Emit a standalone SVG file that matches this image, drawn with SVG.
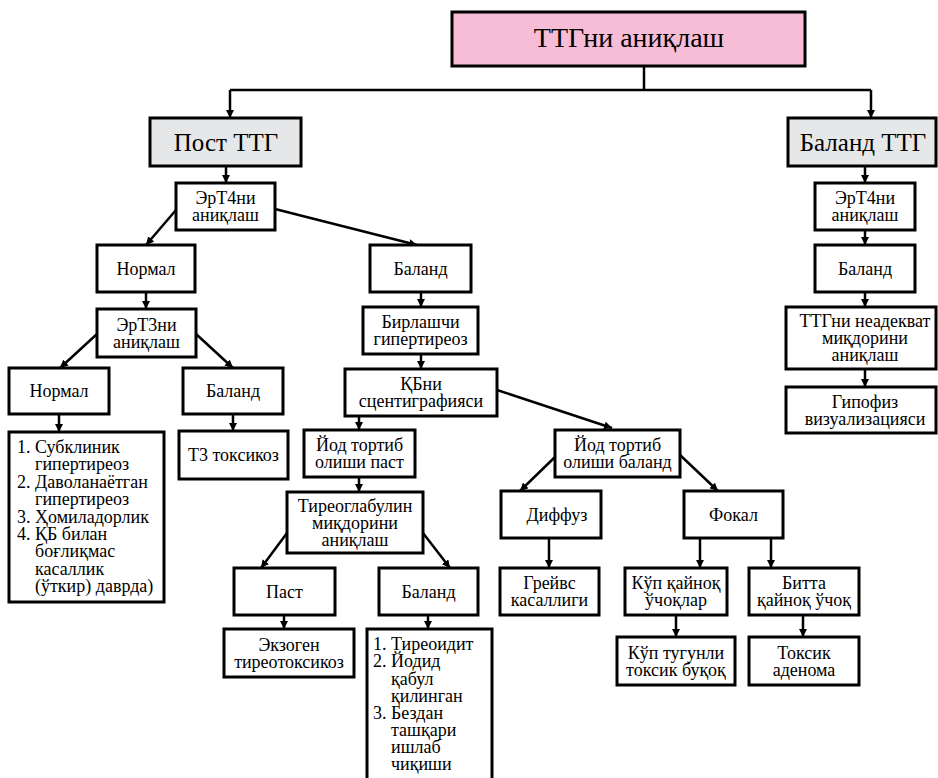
<svg xmlns="http://www.w3.org/2000/svg" width="938" height="778" viewBox="0 0 938 778">
  <style>
    .box { fill: #ffffff; stroke: #000000; stroke-width: 3; }
    .pink { fill: #f7bdd7; }
    .grey { fill: #e6e7e9; }
    .c { fill: none; stroke: #000000; stroke-width: 2.5; }
    .a { fill: none; stroke: #000000; stroke-width: 2.5; marker-end: url(#arr); }
  </style>
  <defs>
    <marker id="arr" markerUnits="userSpaceOnUse" markerWidth="9" markerHeight="8" refX="8" refY="4" orient="auto">
      <path d="M0,0 L8,4 L0,8 z" fill="#000000"/>
    </marker>
  </defs>

  <rect width="938" height="778" fill="#ffffff"/>

  <g id="connectors">
    <path class="c" d="M644,66 V90"/>
    <path class="c" d="M230,90 H871"/>
    <line class="a" x1="230" y1="90" x2="230" y2="118"/>
    <line class="a" x1="871" y1="90" x2="871" y2="118"/>
    <line class="a" x1="226" y1="166" x2="226" y2="183"/>
    <line class="a" x1="176" y1="210" x2="146" y2="245"/>
    <line class="a" x1="275" y1="209" x2="417" y2="245"/>
    <line class="a" x1="146" y1="292" x2="146" y2="309"/>
    <line class="a" x1="97" y1="334" x2="60" y2="368"/>
    <line class="a" x1="196" y1="334" x2="233" y2="368"/>
    <line class="a" x1="59" y1="414" x2="59" y2="432"/>
    <line class="a" x1="233" y1="414" x2="233" y2="431"/>
    <line class="a" x1="421" y1="292" x2="421" y2="307"/>
    <line class="a" x1="421" y1="354" x2="421" y2="369"/>
    <line class="a" x1="359" y1="416" x2="359" y2="430"/>
    <line class="a" x1="497" y1="390" x2="612" y2="428"/>
    <line class="a" x1="359" y1="477" x2="359" y2="492"/>
    <line class="a" x1="287" y1="533" x2="261" y2="568"/>
    <line class="a" x1="423" y1="533" x2="450" y2="568"/>
    <line class="a" x1="284" y1="615" x2="284" y2="629"/>
    <line class="a" x1="428" y1="615" x2="428" y2="629"/>
    <line class="a" x1="555" y1="457" x2="520" y2="491"/>
    <line class="a" x1="680" y1="455" x2="718" y2="491"/>
    <line class="a" x1="549" y1="538" x2="549" y2="568"/>
    <line class="a" x1="700" y1="538" x2="700" y2="568"/>
    <line class="a" x1="771" y1="538" x2="771" y2="568"/>
    <line class="a" x1="676" y1="615" x2="676" y2="637"/>
    <line class="a" x1="803" y1="615" x2="803" y2="637"/>
    <line class="a" x1="865" y1="166" x2="865" y2="183"/>
    <line class="a" x1="865" y1="230" x2="865" y2="245"/>
    <line class="a" x1="865" y1="292" x2="865" y2="307"/>
    <line class="a" x1="865" y1="369" x2="865" y2="387"/>
  </g>

  <g id="root">
    <rect class="box pink" x="452" y="12" width="353" height="54"/>
    <text font-family="Liberation Serif" font-size="28" text-anchor="middle" x="629" y="47">ТТГни аниқлаш</text>
  </g>

  <g id="post-ttg">
    <rect class="box grey" x="150" y="118" width="151" height="48"/>
    <text font-family="Liberation Serif" font-size="25" text-anchor="middle" x="226" y="151">Пост ТТГ</text>
  </g>
  <g id="baland-ttg">
    <rect class="box grey" x="788" y="118" width="148" height="48"/>
    <text font-family="Liberation Serif" font-size="25" text-anchor="middle" x="863" y="151">Баланд ТТГ</text>
  </g>

  <!-- left branch -->
  <g id="ert4-left">
    <rect class="box" x="176" y="183" width="99" height="47"/>
    <text font-family="Liberation Serif" font-size="18" text-anchor="middle" x="225.5" y="204">ЭрТ4ни</text>
    <text font-family="Liberation Serif" font-size="18" text-anchor="middle" x="225.5" y="221">аниқлаш</text>
  </g>
  <g id="normal-1">
    <rect class="box" x="97" y="245" width="98" height="47"/>
    <text font-family="Liberation Serif" font-size="18" text-anchor="middle" x="146" y="274.5">Нормал</text>
  </g>
  <g id="ert3">
    <rect class="box" x="97" y="309" width="99" height="48"/>
    <text font-family="Liberation Serif" font-size="18" text-anchor="middle" x="146.5" y="330.5">ЭрТ3ни</text>
    <text font-family="Liberation Serif" font-size="18" text-anchor="middle" x="146.5" y="347.5">аниқлаш</text>
  </g>
  <g id="normal-2">
    <rect class="box" x="9" y="368" width="100" height="46"/>
    <text font-family="Liberation Serif" font-size="18" text-anchor="middle" x="59" y="397">Нормал</text>
  </g>
  <g id="baland-t3">
    <rect class="box" x="183" y="368" width="100" height="46"/>
    <text font-family="Liberation Serif" font-size="18" text-anchor="middle" x="233" y="397">Баланд</text>
  </g>
  <g id="list-normal">
    <rect class="box" x="9" y="432" width="155" height="170"/>
    <text font-family="Liberation Serif" font-size="18" x="17" y="453">1. Субклиник</text>
    <text font-family="Liberation Serif" font-size="18" x="35" y="470">гипертиреоз</text>
    <text font-family="Liberation Serif" font-size="18" x="17" y="487.5">2. Даволанаётган</text>
    <text font-family="Liberation Serif" font-size="18" x="35" y="505">гипертиреоз</text>
    <text font-family="Liberation Serif" font-size="18" x="17" y="522.5">3. Ҳомиладорлик</text>
    <text font-family="Liberation Serif" font-size="18" x="17" y="540">4. ҚБ билан</text>
    <text font-family="Liberation Serif" font-size="18" x="35" y="557">боғлиқмас</text>
    <text font-family="Liberation Serif" font-size="18" x="35" y="574.5">касаллик</text>
    <text font-family="Liberation Serif" font-size="18" x="35" y="592">(ўткир) даврда)</text>
  </g>
  <g id="t3-toxicosis">
    <rect class="box" x="179" y="431" width="109" height="48"/>
    <text font-family="Liberation Serif" font-size="18" text-anchor="middle" x="233.5" y="461">Т3 токсикоз</text>
  </g>

  <!-- middle branch -->
  <g id="baland-t4">
    <rect class="box" x="370" y="245" width="101" height="47"/>
    <text font-family="Liberation Serif" font-size="18" text-anchor="middle" x="420.5" y="274.5">Баланд</text>
  </g>
  <g id="birlashchi">
    <rect class="box" x="363" y="307" width="115" height="47"/>
    <text font-family="Liberation Serif" font-size="18" text-anchor="middle" x="420.5" y="328">Бирлашчи</text>
    <text font-family="Liberation Serif" font-size="18" text-anchor="middle" x="420.5" y="345">гипертиреоз</text>
  </g>
  <g id="scintigraphy">
    <rect class="box" x="345" y="369" width="152" height="47"/>
    <text font-family="Liberation Serif" font-size="18" text-anchor="middle" x="421" y="390">ҚБни</text>
    <text font-family="Liberation Serif" font-size="18" text-anchor="middle" x="421" y="407">сцентиграфияси</text>
  </g>
  <g id="iodine-low">
    <rect class="box" x="304" y="430" width="111" height="47"/>
    <text font-family="Liberation Serif" font-size="18" text-anchor="middle" x="359.5" y="451">Йод тортиб</text>
    <text font-family="Liberation Serif" font-size="18" text-anchor="middle" x="359.5" y="468">олиши паст</text>
  </g>
  <g id="thyroglobulin">
    <rect class="box" x="287" y="492" width="136" height="61"/>
    <text font-family="Liberation Serif" font-size="18" text-anchor="middle" x="355" y="511.5">Тиреоглабулин</text>
    <text font-family="Liberation Serif" font-size="18" text-anchor="middle" x="355" y="528.5">миқдорини</text>
    <text font-family="Liberation Serif" font-size="18" text-anchor="middle" x="355" y="545.5">аниқлаш</text>
  </g>
  <g id="past">
    <rect class="box" x="234" y="568" width="101" height="47"/>
    <text font-family="Liberation Serif" font-size="18" text-anchor="middle" x="284.5" y="597.5">Паст</text>
  </g>
  <g id="baland-tg">
    <rect class="box" x="379" y="568" width="99" height="47"/>
    <text font-family="Liberation Serif" font-size="18" text-anchor="middle" x="428.5" y="597.5">Баланд</text>
  </g>
  <g id="exogenous">
    <rect class="box" x="224" y="629" width="130" height="48"/>
    <text font-family="Liberation Serif" font-size="18" text-anchor="middle" x="289" y="650.5">Экзоген</text>
    <text font-family="Liberation Serif" font-size="18" text-anchor="middle" x="289" y="667.5">тиреотоксикоз</text>
  </g>
  <g id="list-baland">
    <rect class="box" x="367" y="629" width="125" height="155"/>
    <text font-family="Liberation Serif" font-size="18" x="373" y="650">1. Тиреоидит</text>
    <text font-family="Liberation Serif" font-size="18" x="373" y="667">2. Йодид</text>
    <text font-family="Liberation Serif" font-size="18" x="391" y="684.5">қабул</text>
    <text font-family="Liberation Serif" font-size="18" x="391" y="701.5">қилинган</text>
    <text font-family="Liberation Serif" font-size="18" x="373" y="718.5">3. Бездан</text>
    <text font-family="Liberation Serif" font-size="18" x="391" y="736">ташқари</text>
    <text font-family="Liberation Serif" font-size="18" x="391" y="753">ишлаб</text>
    <text font-family="Liberation Serif" font-size="18" x="391" y="770">чиқиши</text>
  </g>

  <g id="iodine-high">
    <rect class="box" x="555" y="430" width="125" height="47"/>
    <text font-family="Liberation Serif" font-size="18" text-anchor="middle" x="617.5" y="451">Йод тортиб</text>
    <text font-family="Liberation Serif" font-size="18" text-anchor="middle" x="617.5" y="468">олиши баланд</text>
  </g>
  <g id="diffuse">
    <rect class="box" x="501" y="491" width="100" height="47"/>
    <text font-family="Liberation Serif" font-size="18" text-anchor="middle" x="557" y="520.5">Диффуз</text>
  </g>
  <g id="focal">
    <rect class="box" x="684" y="491" width="99" height="47"/>
    <text font-family="Liberation Serif" font-size="18" text-anchor="middle" x="733.5" y="520.5">Фокал</text>
  </g>
  <g id="graves">
    <rect class="box" x="500" y="568" width="99" height="47"/>
    <text font-family="Liberation Serif" font-size="18" text-anchor="middle" x="549.5" y="589">Грейвс</text>
    <text font-family="Liberation Serif" font-size="18" text-anchor="middle" x="549.5" y="606">касаллиги</text>
  </g>
  <g id="multi-hot">
    <rect class="box" x="625" y="568" width="102" height="47"/>
    <text font-family="Liberation Serif" font-size="18" text-anchor="middle" x="676" y="589">Кўп қайноқ</text>
    <text font-family="Liberation Serif" font-size="18" text-anchor="middle" x="676" y="606">ўчоқлар</text>
  </g>
  <g id="single-hot">
    <rect class="box" x="749" y="568" width="110" height="47"/>
    <text font-family="Liberation Serif" font-size="18" text-anchor="middle" x="804" y="589">Битта</text>
    <text font-family="Liberation Serif" font-size="18" text-anchor="middle" x="804" y="606">қайноқ ўчоқ</text>
  </g>
  <g id="multinodular">
    <rect class="box" x="617" y="637" width="118" height="48"/>
    <text font-family="Liberation Serif" font-size="18" text-anchor="middle" x="676" y="658.5">Кўп тугунли</text>
    <text font-family="Liberation Serif" font-size="18" text-anchor="middle" x="676" y="675.5">токсик буқоқ</text>
  </g>
  <g id="adenoma">
    <rect class="box" x="749" y="637" width="110" height="48"/>
    <text font-family="Liberation Serif" font-size="18" text-anchor="middle" x="804" y="658.5">Токсик</text>
    <text font-family="Liberation Serif" font-size="18" text-anchor="middle" x="804" y="675.5">аденома</text>
  </g>

  <!-- right branch -->
  <g id="ert4-right">
    <rect class="box" x="815" y="183" width="100" height="47"/>
    <text font-family="Liberation Serif" font-size="18" text-anchor="middle" x="865" y="204">ЭрТ4ни</text>
    <text font-family="Liberation Serif" font-size="18" text-anchor="middle" x="865" y="221">аниқлаш</text>
  </g>
  <g id="baland-right">
    <rect class="box" x="815" y="245" width="100" height="47"/>
    <text font-family="Liberation Serif" font-size="18" text-anchor="middle" x="865" y="274.5">Баланд</text>
  </g>
  <g id="inadequate-tsh">
    <rect class="box" x="786" y="307" width="150" height="62"/>
    <text font-family="Liberation Serif" font-size="18" text-anchor="middle" x="865" y="327">ТТГни неадекват</text>
    <text font-family="Liberation Serif" font-size="18" text-anchor="middle" x="865" y="344">миқдорини</text>
    <text font-family="Liberation Serif" font-size="18" text-anchor="middle" x="865" y="361">аниқлаш</text>
  </g>
  <g id="pituitary">
    <rect class="box" x="786" y="387" width="150" height="46"/>
    <text font-family="Liberation Serif" font-size="18" text-anchor="middle" x="865" y="407.5">Гипофиз</text>
    <text font-family="Liberation Serif" font-size="18" text-anchor="middle" x="865" y="424.5">визуализацияси</text>
  </g>
</svg>
